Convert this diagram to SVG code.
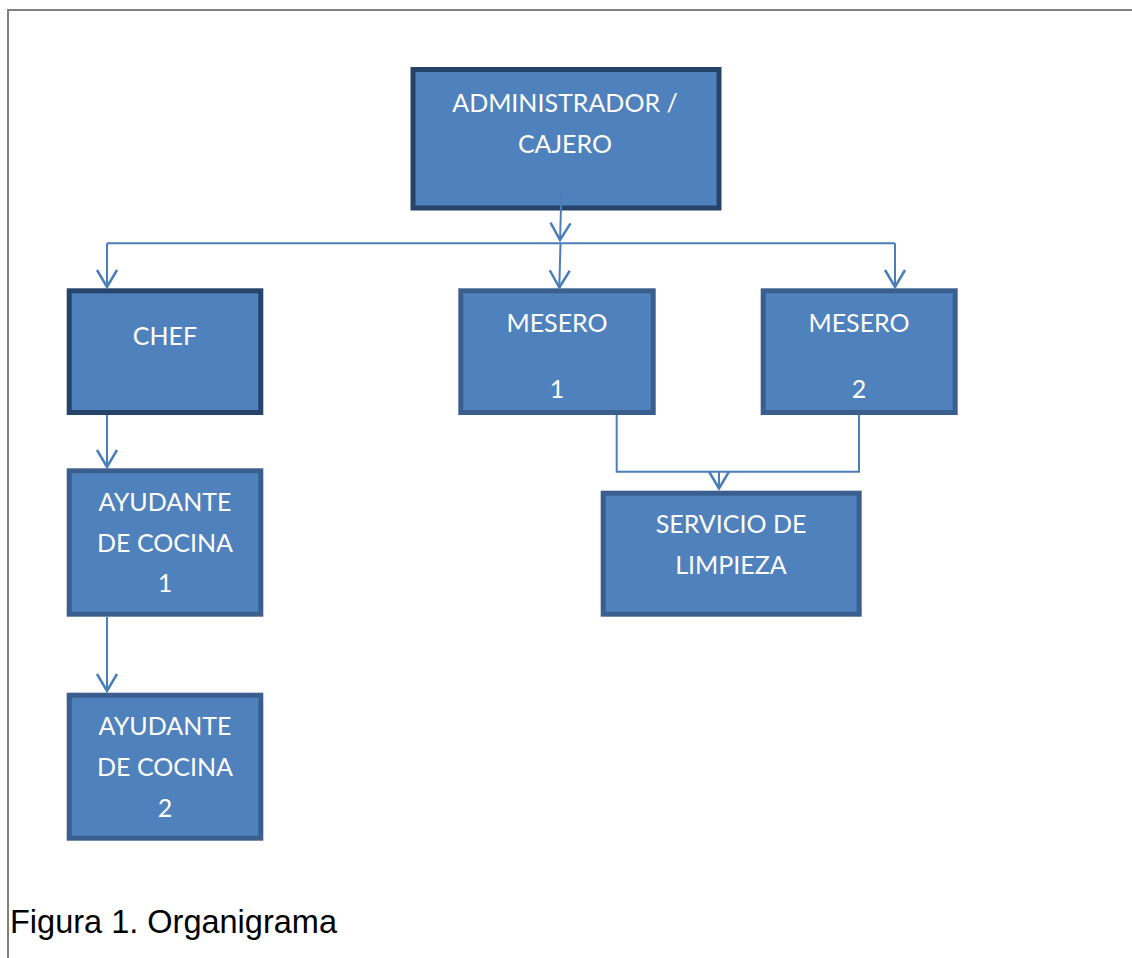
<svg xmlns="http://www.w3.org/2000/svg" width="1132" height="958" viewBox="0 0 1132 958">
<style>
.box{fill:#4f81bd;stroke:#3a5f8f;stroke-width:5}
.dark{stroke:#26436a}
.t{font-family:Lato,"Open Sans",sans-serif;font-size:25px;fill:#ffffff;text-anchor:middle}
.c{fill:none;stroke:#4a7ebb;stroke-width:2}
.cap{font-family:"Liberation Sans",Arial,sans-serif;font-size:32.5px;fill:#000000}
</style>
<defs>
<marker id="arr" markerWidth="20" markerHeight="24" viewBox="-18 -12 20 24" refX="0" refY="0" orient="auto" markerUnits="userSpaceOnUse">
<path d="M-17,-10 L0,0 L-17,10" fill="none" stroke="#4a7ebb" stroke-width="2.5"/>
</marker>
</defs>
<rect x="0" y="0" width="1132" height="958" fill="#ffffff"/>
<path d="M8,958 L8,10 L1132,10" fill="none" stroke="#808080" stroke-width="2"/>
<g id="admin">
<rect class="box dark" x="413" y="69.5" width="306" height="138.5"/>
<text class="t" x="565" y="112">ADMINISTRADOR /</text>
<text class="t" x="565" y="153">CAJERO</text>
</g>
<g id="chef">
<rect class="box dark" x="69.2" y="290.8" width="191.6" height="121.7"/>
<text class="t" x="165" y="345">CHEF</text>
</g>
<g id="mesero1">
<rect class="box" x="460.8" y="290.8" width="192.4" height="121.7"/>
<text class="t" x="557" y="331.7">MESERO</text>
<text class="t" x="557" y="398">1</text>
</g>
<g id="mesero2">
<rect class="box" x="763.2" y="290.8" width="192" height="121.7"/>
<text class="t" x="859" y="331.7">MESERO</text>
<text class="t" x="859" y="398">2</text>
</g>
<g id="ayudante1">
<rect class="box" x="69.2" y="470.8" width="191.6" height="143.4"/>
<text class="t" x="165" y="511">AYUDANTE</text>
<text class="t" x="165" y="551.5">DE COCINA</text>
<text class="t" x="165" y="592">1</text>
</g>
<g id="ayudante2">
<rect class="box" x="69.2" y="695.2" width="191.6" height="143"/>
<text class="t" x="165" y="735">AYUDANTE</text>
<text class="t" x="165" y="775.5">DE COCINA</text>
<text class="t" x="165" y="816.5">2</text>
</g>
<g id="servicio">
<rect class="box" x="603.2" y="493.2" width="256" height="121"/>
<text class="t" x="731" y="533.3">SERVICIO DE</text>
<text class="t" x="731" y="574">LIMPIEZA</text>
</g>
<g id="connectors">
<line class="c" x1="561.5" y1="192" x2="560" y2="240" stroke-width="2.5" marker-end="url(#arr)"/>
<path class="c" d="M107,243.3 L895,243.3"/>
<line class="c" x1="107" y1="243.3" x2="107" y2="287" marker-end="url(#arr)"/>
<line class="c" x1="560.5" y1="243.3" x2="559.3" y2="287.5" stroke-width="2.5" marker-end="url(#arr)"/>
<line class="c" x1="895" y1="243.3" x2="895" y2="287" marker-end="url(#arr)"/>
<line class="c" x1="107" y1="415" x2="107" y2="467" stroke-width="2.5" marker-end="url(#arr)"/>
<line class="c" x1="107" y1="617" x2="107" y2="691" stroke-width="2.5" marker-end="url(#arr)"/>
<path class="c" d="M616.7,415 L616.7,471.7 L859,471.7 L859,415"/>
<line class="c" x1="719" y1="471.7" x2="719" y2="488.5" marker-end="url(#arr)"/>
</g>
<text class="cap" x="10" y="932.5">Figura 1. Organigrama</text>
</svg>
